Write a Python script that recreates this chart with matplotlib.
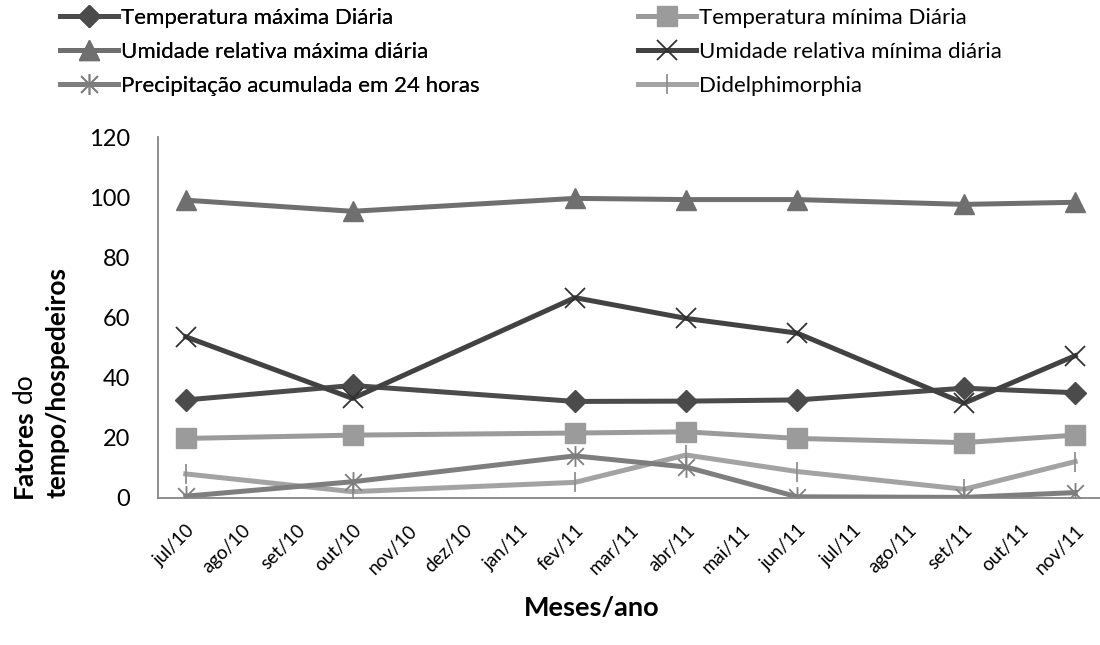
import matplotlib
matplotlib.use('Agg')
import matplotlib.pyplot as plt
from matplotlib.path import Path

plt.rcParams['font.family'] = ['Lato', 'DejaVu Sans']

# monthly category axis, only some months were sampled
months = ['jul/10', 'ago/10', 'set/10', 'out/10', 'nov/10', 'dez/10',
          'jan/11', 'fev/11', 'mar/11', 'abr/11', 'mai/11', 'jun/11',
          'jul/11', 'ago/11', 'set/11', 'out/11', 'nov/11']
sampled = ['jul/10', 'out/10', 'fev/11', 'abr/11', 'jun/11', 'set/11',
           'nov/11']

temp_max = [32.6, 37.4, 32.1, 32.2, 32.6, 36.5, 35.0]
temp_min = [19.8, 20.9, 21.6, 22.0, 19.8, 18.4, 20.9]
umid_max = [99.0, 95.3, 99.6, 99.2, 99.2, 97.6, 98.3]
umid_min = [53.6, 33.1, 66.6, 59.7, 54.8, 31.5, 47.3]
precip = [0.6, 5.4, 14.0, 10.3, 0.4, 0.2, 1.8]
didelph = [8.0, 2.1, 5.2, 14.3, 8.8, 2.9, 12.1]

labels = ['Temperatura máxima Diária', 'Temperatura mínima Diária',
          'Umidade relativa máxima diária', 'Umidade relativa mínima diária',
          'Precipitação acumulada em 24 horas', 'Didelphimorphia']

# Excel style "star" marker: X plus a vertical bar
star = Path([(-1, -1), (1, 1), (-1, 1), (1, -1), (0, -1.25), (0, 1.25)],
            [Path.MOVETO, Path.LINETO, Path.MOVETO, Path.LINETO,
             Path.MOVETO, Path.LINETO])

xs = [months.index(m) for m in sampled]

fig = plt.figure(figsize=(11, 6.45), dpi=100)
ax = fig.add_axes([158 / 1100, 1 - 498 / 645, 945 / 1100, 361 / 645])

lw = 3.6
lines = []
lines += ax.plot(xs, temp_max, color='#4b4b4b', lw=lw, marker='D', ms=11,
                 mec='#4b4b4b', mfc='#4b4b4b', label=labels[0])
lines += ax.plot(xs, temp_min, color='#9b9b9b', lw=lw, marker='s', ms=14,
                 mec='#9b9b9b', mfc='#9b9b9b', label=labels[1])
lines += ax.plot(xs, umid_max, color='#6f6f6f', lw=lw, marker='^', ms=15,
                 mec='#6f6f6f', mfc='#6f6f6f', label=labels[2])
lines += ax.plot(xs, umid_min, color='#424242', lw=lw, marker='x', ms=14,
                 mew=1.3, mec='#303030', label=labels[3])
lines += ax.plot(xs, precip, color='#7e7e7e', lw=lw, marker=star, ms=15,
                 mew=1.3, mec='#7e7e7e', mfc='none', label=labels[4])
lines += ax.plot(xs, didelph, color='#a3a3a3', lw=lw, marker='|', ms=15,
                 mew=1.3, mec='#909090', label=labels[5])
lines[5].set_zorder(1.9)

ax.set_xlim(-0.5, len(months) - 0.5)
ax.set_ylim(0, 120)
ax.set_yticks(range(0, 121, 20))
ax.set_xticks(range(len(months)))
ax.set_xticklabels(months, rotation=45, ha='right', va='top',
                   rotation_mode='anchor', fontsize=13.5)
ax.tick_params(axis='y', length=0, pad=20, labelsize=17)
ax.tick_params(axis='x', length=0, pad=17)
for side in ('top', 'right'):
    ax.spines[side].set_visible(False)
for side in ('left', 'bottom'):
    ax.spines[side].set_color('#868686')
    ax.spines[side].set_linewidth(1.3)

# legend: two columns placed like the original
common = dict(frameon=False, fontsize=16, handlelength=2.6,
              handletextpad=0.15, labelspacing=0.62, borderpad=0,
              borderaxespad=0, loc='upper left')
leg1 = fig.legend(lines[0::2], labels[0::2],
                  bbox_to_anchor=(60 / 1100, 1 - 8 / 645), **common)
fig.add_artist(leg1)
fig.legend(lines[1::2], labels[1::2],
           bbox_to_anchor=(638 / 1100, 1 - 8 / 645), **common)

fig.text(592 / 1100, 1 - 608 / 645, 'Meses/ano', ha='center', va='center',
         fontsize=19.5, fontweight='bold')

# y label: "Fatores" bold + " do", second line bold
t1 = fig.text(24 / 1100, 1 - 498 / 645, 'Fatores', rotation=90,
              ha='center', va='bottom', fontsize=19, fontweight='bold')
fig.text(58 / 1100, 1 - 498 / 645, 'tempo/hospedeiros', rotation=90,
         ha='center', va='bottom', fontsize=19, fontweight='bold')
fig.canvas.draw()
bb = t1.get_window_extent()
fig.text(24 / 1100, (bb.y1 + 6) / 645, 'do', rotation=90,
         ha='center', va='bottom', fontsize=19)

fig.savefig('out.png', dpi=100)
